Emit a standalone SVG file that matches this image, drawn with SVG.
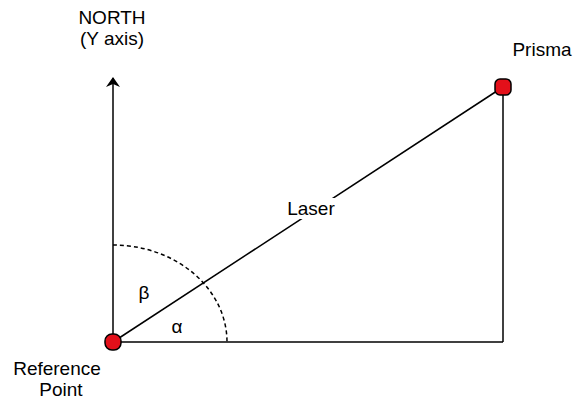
<svg xmlns="http://www.w3.org/2000/svg" width="581" height="399" viewBox="0 0 581 399">
<style>
text{font-family:"Liberation Sans",Arial,sans-serif;font-size:19px;fill:#000;text-anchor:middle}
.ln{stroke:#000;stroke-width:1.5;fill:none}
.pt{fill:#e3101a;stroke:#000;stroke-width:1.5}
</style>
<defs>
<marker id="arr" viewBox="0 0 10 14" refX="9" refY="7" markerWidth="10" markerHeight="14" markerUnits="userSpaceOnUse" orient="auto">
<path d="M0,0 L10,7 L0,14 L3,7 Z" fill="#000"/>
</marker>
</defs>
<rect width="581" height="399" fill="#fff"/>
<g id="connectors">
<line class="ln" x1="113" y1="342" x2="113" y2="78" marker-end="url(#arr)"/>
<line class="ln" x1="113" y1="342" x2="503" y2="342"/>
<line class="ln" x1="503" y1="87" x2="503" y2="342"/>
<line class="ln" x1="113" y1="342" x2="503" y2="87"/>
<path class="ln" d="M113,245 A114,97 0 0 1 227,342" stroke-dasharray="4,3"/>
</g>
<g id="north"><text x="112" y="24">NORTH</text><text x="112" y="45">(Y axis)</text></g>
<g id="prisma"><rect class="pt" x="495" y="79" width="16" height="16" rx="5"/><text x="542" y="56">Prisma</text></g>
<g id="reference"><rect class="pt" x="105" y="334" width="16" height="16" rx="7"/><text x="57" y="375">Reference</text><text x="61" y="396">Point</text></g>
<g id="laser"><rect x="285" y="198" width="52" height="21" fill="#fff"/><text x="311" y="215">Laser</text></g>
<g id="beta"><text x="144" y="299">β</text></g>
<g id="alpha"><text x="177" y="333">α</text></g>
</svg>
